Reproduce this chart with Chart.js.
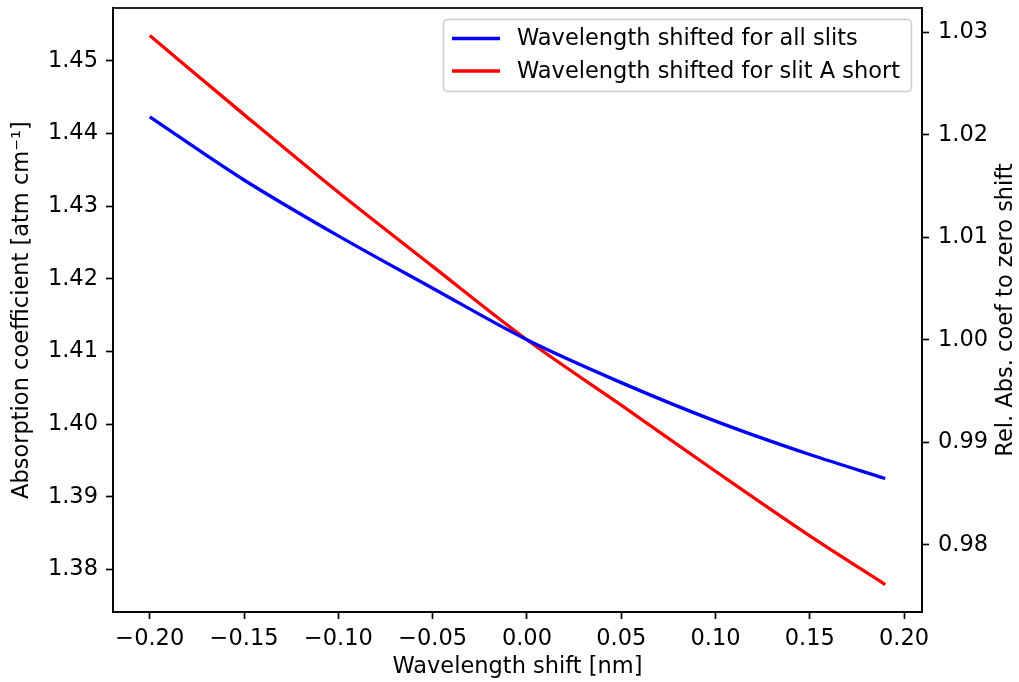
<!DOCTYPE html>
<html>
<head>
<meta charset="utf-8">
<script src="https://cdn.jsdelivr.net/npm/chart.js@4.4.1/dist/chart.umd.min.js"></script>
<style>
  html, body { margin: 0; padding: 0; background: #ffffff; }
  #wrap { width: 1019px; height: 682px; }
</style>
</head>
<body>
<div id="wrap"><canvas id="c" width="1019" height="682"></canvas></div>
<script>
// ---- data ----
const shifts   = [-0.20, -0.15, -0.10, -0.05, 0.00, 0.05, 0.10, 0.15, 0.19];
const allSlits = [1.4423, 1.4336, 1.4259, 1.4187, 1.4116, 1.4057, 1.4004, 1.3958, 1.3925];
const slitA    = [1.4535, 1.4426, 1.4319, 1.4217, 1.4116, 1.4026, 1.3935, 1.3846, 1.3779];
const seriesLabels = ['Wavelength shifted for all slits', 'Wavelength shifted for slit A short'];
const seriesColors = ['#0000ff', '#ff0000'];
const xTicks  = [-0.20, -0.15, -0.10, -0.05, 0.00, 0.05, 0.10, 0.15, 0.20];
const yTicks  = [1.38, 1.39, 1.40, 1.41, 1.42, 1.43, 1.44, 1.45];
const y2Ticks = [0.98, 0.99, 1.00, 1.01, 1.02, 1.03];
const zeroShiftValue = 1.4116;

// axis ranges (matplotlib-like 5% margins)
const xMin = -0.2195, xMax = 0.2095;
const allVals = allSlits.concat(slitA);
const dMin = Math.min(...allVals), dMax = Math.max(...allVals);
const yMin = dMin - 0.05 * (dMax - dMin), yMax = dMax + 0.05 * (dMax - dMin);

const FONT = 'DejaVu Sans';
const FS = 22.5;
const fmtMinus = (v, d) => { const s = Math.abs(v) < 1e-9 ? (0).toFixed(d) : v.toFixed(d); return s.replace('-', '\u2212'); };
const noPadV = ax => { ax.paddingTop = 0; ax.paddingBottom = 0; };

const frame = {
  id: 'frame',
  afterDatasetsDraw(chart) {
    const {ctx, chartArea: a} = chart;
    ctx.save();
    ctx.strokeStyle = '#000';
    ctx.lineWidth = 1.7;
    ctx.strokeRect(a.left, a.top, a.right - a.left, a.bottom - a.top);
    ctx.restore();
  },
  afterDraw(chart) {
    const {ctx, chartArea: a} = chart;
    ctx.save();
    // right axis title, reading bottom-to-top like matplotlib
    ctx.fillStyle = '#000';
    ctx.font = FS + 'px "' + FONT + '"';
    ctx.textAlign = 'center';
    ctx.textBaseline = 'middle';
    ctx.translate(1006, (a.top + a.bottom) / 2);
    ctx.rotate(-Math.PI / 2);
    ctx.fillText('Rel. Abs. coef to zero shift', 0, 0);
    ctx.restore();

    // legend box (upper right)
    ctx.save();
    const bx = 443.5, by = 19.5, bw = 468, bh = 72;
    ctx.fillStyle = 'rgba(255,255,255,0.8)';
    ctx.strokeStyle = '#cccccc';
    ctx.lineWidth = 1.5;
    ctx.beginPath();
    ctx.roundRect(bx, by, bw, bh, 4);
    ctx.fill();
    ctx.stroke();
    ctx.font = FS + 'px "' + FONT + '"';
    ctx.textAlign = 'left';
    ctx.textBaseline = 'middle';
    chart.data.datasets.forEach((ds, i) => {
      const yy = 38.5 + i * 32.5;
      ctx.strokeStyle = ds.borderColor;
      ctx.lineWidth = 3.3;
      ctx.beginPath();
      ctx.moveTo(452, yy);
      ctx.lineTo(500, yy);
      ctx.stroke();
      ctx.fillStyle = '#000';
      ctx.fillText(ds.label, 517, yy + 1);
    });
    ctx.restore();
  }
};

new Chart(document.getElementById('c'), {
  type: 'line',
  data: {
    datasets: [
      { label: seriesLabels[0], data: shifts.map((x, i) => ({x, y: allSlits[i]})),
        borderColor: seriesColors[0], backgroundColor: seriesColors[0], borderWidth: 3.3,
        pointRadius: 0, cubicInterpolationMode: 'monotone', yAxisID: 'y' },
      { label: seriesLabels[1], data: shifts.map((x, i) => ({x, y: slitA[i]})),
        borderColor: seriesColors[1], backgroundColor: seriesColors[1], borderWidth: 3.3,
        pointRadius: 0, cubicInterpolationMode: 'monotone', yAxisID: 'y' }
    ]
  },
  options: {
    responsive: false,
    animation: false,
    devicePixelRatio: 1,
    layout: { padding: { top: 8, left: 0, right: 0, bottom: 0 } },
    plugins: { legend: { display: false }, tooltip: { enabled: false } },
    font: { family: FONT, size: FS },
    scales: {
      x: {
        type: 'linear', position: 'bottom', min: xMin, max: xMax,
        afterBuildTicks: ax => { ax.ticks = xTicks.map(v => ({value: v})); },
        afterFit: ax => { ax.height = 70; ax.paddingLeft = 0; ax.paddingRight = 0; },
        grid: { drawOnChartArea: false, drawTicks: true, tickLength: 7, tickWidth: 1.7, tickColor: '#000' },
        border: { display: true, color: '#000', width: 1.7 },
        ticks: { color: '#000', font: { family: FONT, size: FS }, padding: 7, maxRotation: 0,
                 callback: v => fmtMinus(v, 2) },
        title: { display: true, text: 'Wavelength shift [nm]', color: '#000',
                 font: { family: FONT, size: FS }, padding: { top: 0, bottom: 1 } }
      },
      y: {
        type: 'linear', position: 'left', min: yMin, max: yMax,
        afterBuildTicks: ax => { ax.ticks = yTicks.map(v => ({value: v})); },
        afterFit: ax => { ax.width = 113; noPadV(ax); },
        grid: { drawOnChartArea: false, drawTicks: true, tickLength: 7, tickWidth: 1.7, tickColor: '#000' },
        border: { display: true, color: '#000', width: 1.7 },
        ticks: { color: '#000', font: { family: FONT, size: FS }, padding: 8,
                 callback: v => v.toFixed(2) },
        title: { display: true, text: 'Absorption coefficient [atm cm\u207B\u00B9]', color: '#000',
                 font: { family: FONT, size: FS }, padding: { top: 9, bottom: 0 } }
      },
      y2: {
        type: 'linear', position: 'right', min: yMin / zeroShiftValue, max: yMax / zeroShiftValue,
        afterBuildTicks: ax => { ax.ticks = y2Ticks.map(v => ({value: v})); },
        afterFit: ax => { ax.width = 97; noPadV(ax); },
        grid: { drawOnChartArea: false, drawTicks: true, tickLength: 7, tickWidth: 1.7, tickColor: '#000' },
        border: { display: true, color: '#000', width: 1.7 },
        ticks: { color: '#000', font: { family: FONT, size: FS }, padding: 9,
                 callback: v => v.toFixed(2) },
        title: { display: false }
      }
    }
  },
  plugins: [frame]
});
</script>
</body>
</html>
